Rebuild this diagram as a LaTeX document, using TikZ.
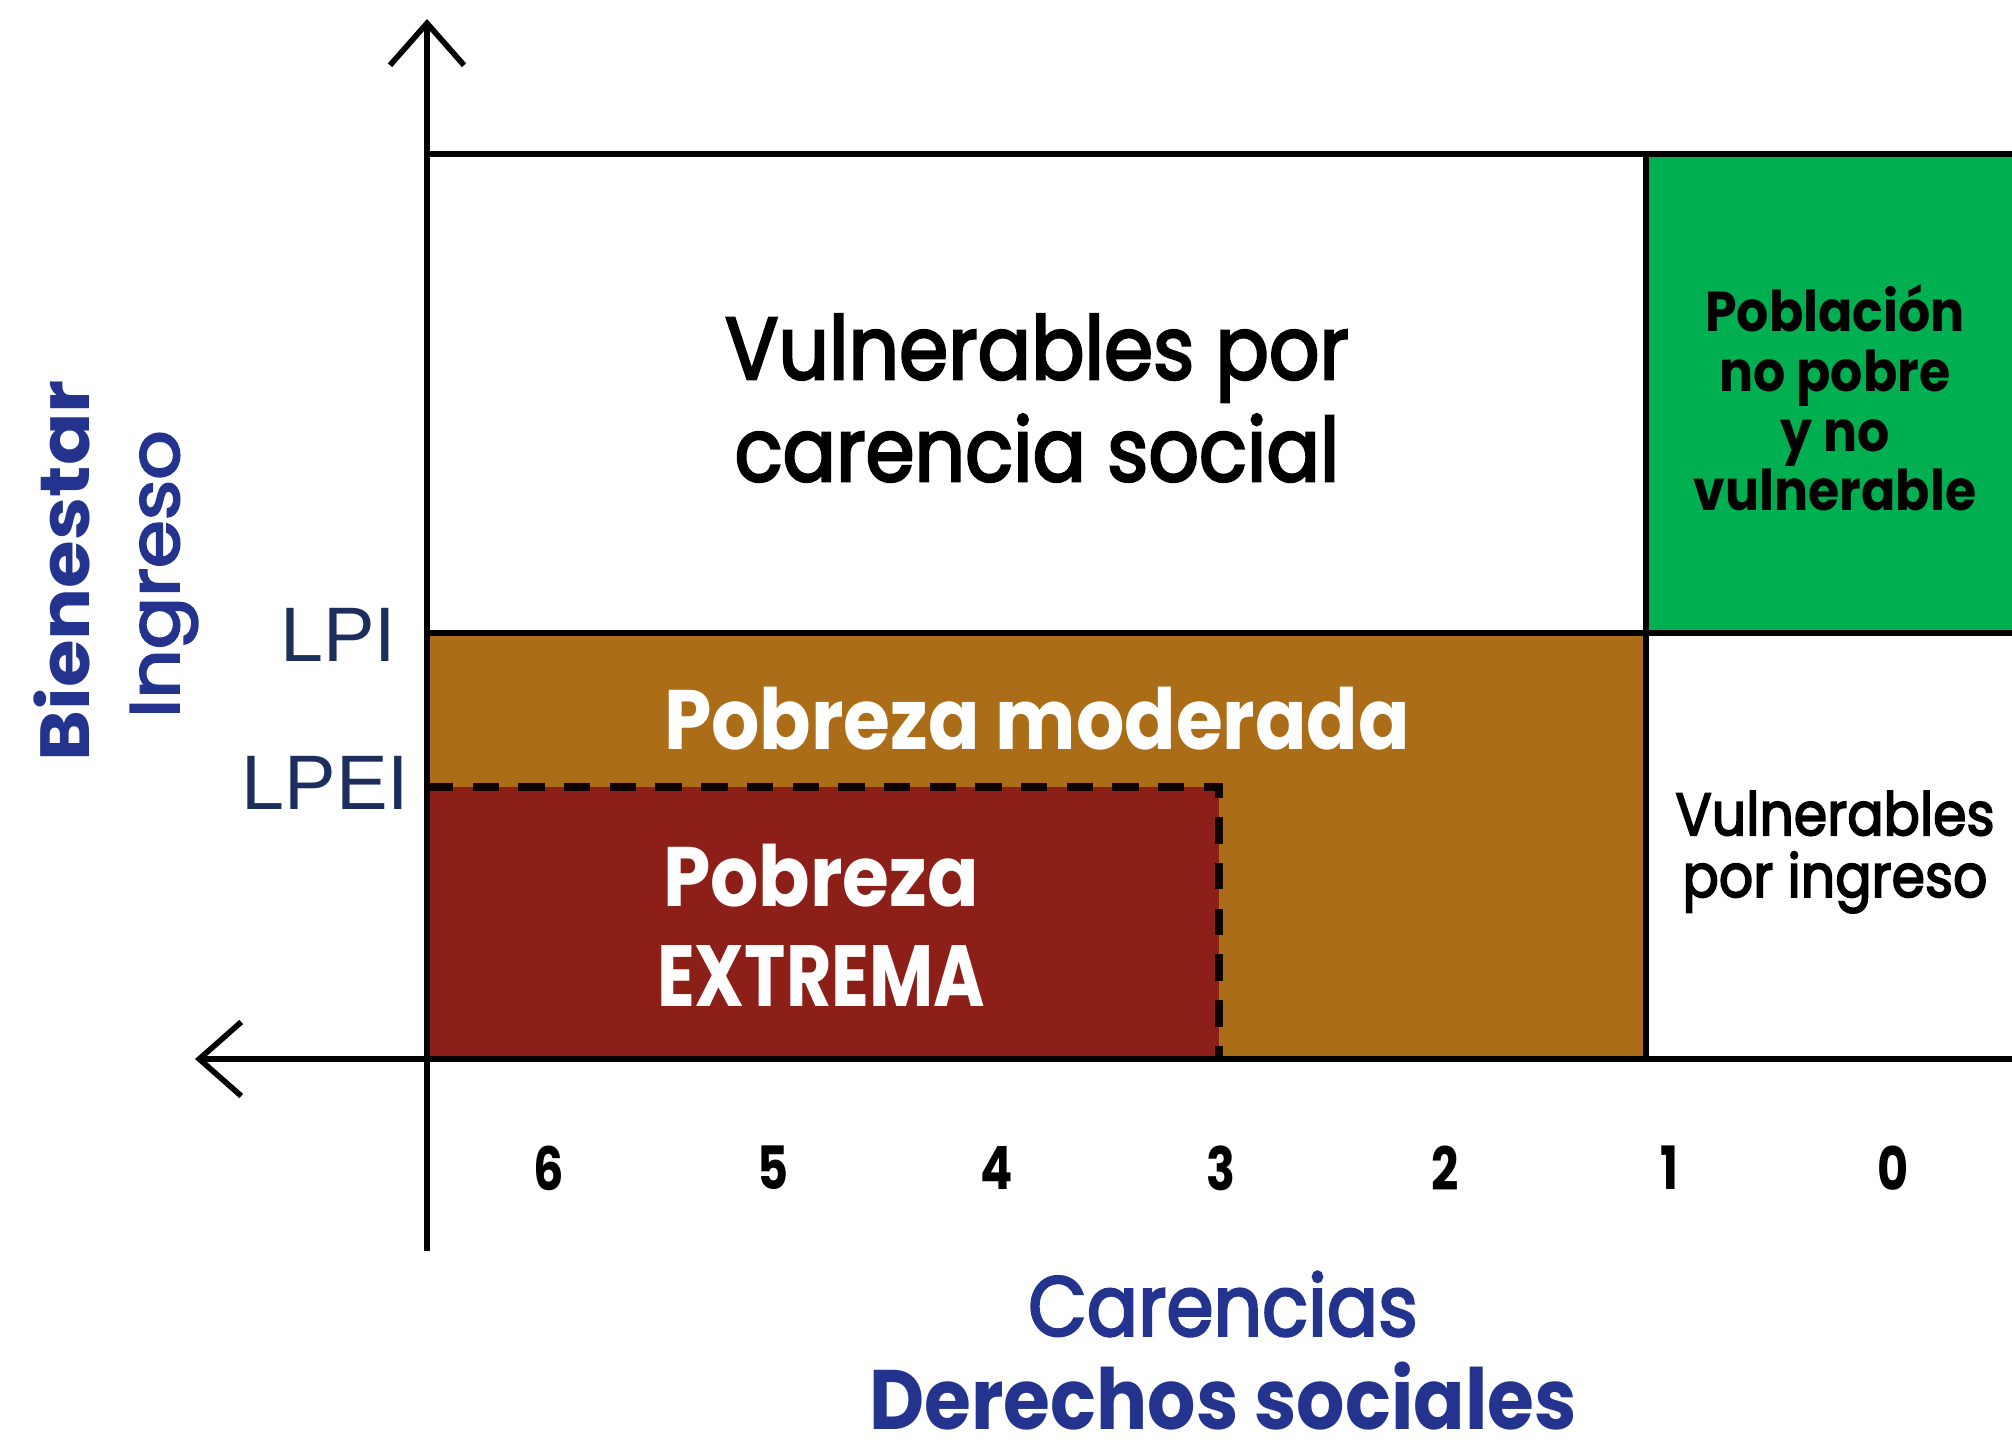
\documentclass[tikz,border=0pt]{standalone}
\usepackage{fontspec}
\setmainfont{Poppins}
\newfontfamily\medfont{Poppins}[FakeBold=3]
\newfontfamily\lineafont{Liberation Sans}
\usetikzlibrary{arrows.meta}
\definecolor{PobrezaBrown}{HTML}{AC6D19}
\definecolor{PobrezaRed}{HTML}{8C1F18}
\definecolor{NoPobreGreen}{HTML}{00AF50}
\definecolor{EjeBlue}{HTML}{24348E}
\definecolor{LineaNavy}{HTML}{1D2D5C}

\begin{document}
\begin{tikzpicture}[
	x=0.1mm, y=-0.1mm,
	axisline/.style={draw=black, line width=1.6pt, -{Straight Barb[length=4.2mm, width=7.4mm]}},
	gridline/.style={draw=black, line width=1.8pt},
	limitline/.style={draw=black!90!PobrezaRed, line width=2.2pt, dash pattern=on 7.5pt off 5.5pt},
	region/.style={align=center, inner sep=0pt, xscale=0.9},
	bigtext/.style={region, font=\medfont\fontsize{25}{29}\selectfont},
	whitebold/.style={region, text=white, font=\fontsize{24}{28.5}\bfseries},
	smalltext/.style={region, font=\medfont\fontsize{17}{17.6}\selectfont},
	linea/.style={anchor=east, inner sep=0pt, text=LineaNavy, font=\lineafont\fontsize{22}{24}\selectfont},
	axistitle/.style={inner sep=0pt, text=EjeBlue, xscale=0.9, font=\medfont\fontsize{24}{28}\selectfont},
	tick/.style={inner sep=0pt, xscale=0.8, font=\fontsize{17}{19}\bfseries}
]
\useasboundingbox (0,0) rectangle (2012,1442);

% key points of the chart
\coordinate (origin) at (427,1059);
\coordinate (ytop) at (427,19);
\coordinate (ybot) at (427,1251);
\coordinate (xleft) at (195,1059);
\coordinate (xright) at (2012,1059);
\coordinate (topleft) at (427,154);
\coordinate (topright) at (2012,154);
\coordinate (lpileft) at (427,633);
\coordinate (lpiright) at (2012,633);
\coordinate (splittop) at (1646,154);
\coordinate (splitbot) at (1646,1059);
\coordinate (lpeileft) at (427,787);
\coordinate (lpeicorner) at (1219,787);
\coordinate (lpeibot) at (1219,1059);

% regions
\fill[NoPobreGreen] (splittop) rectangle (lpiright);
\fill[PobrezaBrown] (lpileft) rectangle (splitbot);
\fill[PobrezaRed] (lpeileft) rectangle (lpeibot);
\draw[limitline] (lpeileft) -- (lpeicorner) -- (lpeibot);

% lines
\draw[gridline] (topleft) -- (topright);
\draw[gridline] (lpileft) -- (lpiright);
\draw[gridline] (splittop) -- (splitbot);
\draw[axisline] (ybot) -- (ytop);
\draw[axisline] (xright) -- (xleft);

% labels
\node[bigtext] (carsocial) at (1037,398) {Vulnerables por\\carencia social};
\node[whitebold] (moderada) at (1037,719) {Pobreza moderada};
\node[whitebold] (extrema) at (821,925) {Pobreza\\\scalebox{0.92}[1.03]{EXTREMA}};
\node[region, font=\fontsize{16}{17}\bfseries, text=black] (nopobre) at (1835,398) {Población\\no pobre\\y no\\vulnerable};
\node[smalltext] (vulingreso) at (1835,852) {Vulnerables\\por ingreso};

\node[linea] (lpi) at (397,635) {LPI};
\node[linea] (lpei) at (410,783) {LPEI};

\node[axistitle, rotate=90, font=\fontsize{22}{26}\bfseries] (bienestar) at (62,571) {Bienestar};
\node[axistitle, rotate=90, font=\medfont\fontsize{22}{26}\selectfont] (ingreso) at (164,574) {Ingreso};

\foreach \k [count=\i from 0] in {6,5,4,3,2,1,0}
	\node[tick] (n\k) at ({549+224*\i},1168) {\k};

\node[axistitle] (carencias) at (1223,1304) {Carencias};
\node[axistitle, font=\fontsize{24}{28}\bfseries] (derechos) at (1223,1396) {Derechos sociales};
\end{tikzpicture}
\end{document}
